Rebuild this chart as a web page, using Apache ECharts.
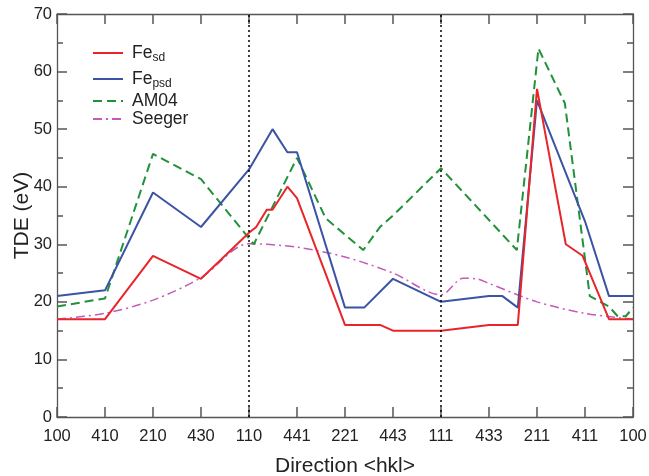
<!DOCTYPE html>
<html>
<head>
<meta charset="utf-8">
<script src="https://cdn.jsdelivr.net/npm/echarts@6/dist/echarts.min.js"></script>
<style>
  html, body { margin: 0; padding: 0; background: #fff; }
  #chart { width: 649px; height: 476px; }
</style>
</head>
<body>
<div id="chart"></div>
<script>
// 方向标签 (x轴刻度)
const dirLabels = ['100', '410', '210', '430', '110', '441', '221', '443', '111', '433', '211', '411', '100'];

// Fe_sd
const sdX = [0, 1, 2, 3, 4, 4.15, 4.37, 4.49, 4.8, 5, 6, 6.73, 7, 8, 9, 9.6, 10, 10.6, 10.95, 11.5, 12];
const sdY = [17, 17, 28, 24, 32, 33, 36, 36, 40, 38, 16, 16, 15, 15, 16, 16, 57, 30, 28, 17, 17];
// Fe_psd
const psdX = [0, 1, 2, 3, 4, 4.49, 4.8, 5, 6, 6.4, 7, 8, 9, 9.28, 9.6, 10, 11, 11.5, 12];
const psdY = [21, 22, 39, 33, 43, 50, 46, 46, 19, 19, 24, 20, 21, 21, 19, 55, 34, 21, 21];
// AM04
const amX = [0, 1, 2, 3, 4.1, 5, 5.6, 6.38, 6.73, 7, 8, 9.58, 10.03, 10.58, 11.1, 11.5, 11.68, 11.85, 12];
const amY = [19.2, 20.6, 45.7, 41.3, 30, 45, 34.5, 29, 33, 35, 43.2, 29, 64, 54.5, 21, 19.2, 17.5, 17.5, 19];
// Seeger
const seX = [0, 1, 2, 3, 4, 5, 6, 7, 8, 8.46, 8.74, 9, 10, 11, 12];
const seY = [17, 18, 20.3, 24.2, 30.1, 29.5, 27.8, 25, 21.2, 24.1, 24, 23.2, 20, 18, 17];

const zip = (xs, ys) => xs.map((x, i) => [x, ys[i]]);

let myChart = echarts.init(document.getElementById('chart'), null, {renderer: 'canvas'});

const FONT = 'Liberation Sans, Arial, sans-serif';
const AXIS_COLOR = '#555';
const TEXT_COLOR = '#222';

// 图例的下标
const legendRich = {
  n: { fontSize: 17.5, fontFamily: FONT, color: TEXT_COLOR, padding: [0, 0, 0, 4] },
  s: { fontSize: 12, fontFamily: FONT, color: TEXT_COLOR, padding: [10, 0, 0, 0] }
};
function legendFmt(name) {
  if (name === 'Fe_sd') return '{n|Fe}{s|sd}';
  if (name === 'Fe_psd') return '{n|Fe}{s|psd}';
  return '{n|' + name + '}';
}
function oneLegend(name, top) {
  return {
    data: [name],
    left: 87,
    top: top,
    itemWidth: 30,
    itemHeight: 12,
    itemGap: 0,
    selectedMode: false,
    formatter: legendFmt,
    itemStyle: { color: 'rgba(0,0,0,0)', borderWidth: 0, opacity: 0 },
    textStyle: { rich: legendRich }
  };
}

// 坐标轴公共设置 (刻度朝内)
function tickStyle() {
  return { show: true, inside: true, length: 10, lineStyle: { color: AXIS_COLOR, width: 1.5 } };
}
function lineStyle() {
  return { show: true, onZero: false, lineStyle: { color: AXIS_COLOR, width: 1.3 } };
}
function minorStyle() {
  return { show: true, splitNumber: 2, length: 6, lineStyle: { color: AXIS_COLOR, width: 1.5 } };
}

let option = {
  animation: false,
  backgroundColor: '#fff',
  color: ['#e8252a', '#3b53a4', '#21913a', '#c45ab9'],
  legend: [
    oneLegend('Fe_sd', 39),
    oneLegend('Fe_psd', 65),
    oneLegend('AM04', 87),
    oneLegend('Seeger', 105)
  ],
  grid: { left: 57, right: 16, top: 14, bottom: 59, containLabel: false, outerBoundsMode: 'none' },
  xAxis: [
    {
      type: 'value', min: 0, max: 12, interval: 1,
      name: 'Direction <hkl>', nameLocation: 'middle', nameGap: 39, nameMoveOverlap: false,
      nameTextStyle: { fontSize: 21, fontFamily: FONT, color: TEXT_COLOR },
      axisLine: lineStyle(),
      axisTick: tickStyle(),
      axisLabel: {
        fontSize: 16.5, fontFamily: FONT, color: TEXT_COLOR, margin: 11,
        formatter: v => dirLabels[Math.round(v)]
      },
      splitLine: { show: false }
    },
    {
      type: 'value', min: 0, max: 12, interval: 1, position: 'top',
      axisLine: lineStyle(),
      axisTick: tickStyle(),
      axisLabel: { show: false },
      splitLine: { show: false }
    }
  ],
  yAxis: [
    {
      type: 'value', min: 0, max: 70, interval: 10,
      name: 'TDE (eV)', nameLocation: 'middle', nameGap: 24, nameRotate: 90, nameMoveOverlap: false,
      nameTextStyle: { fontSize: 21, fontFamily: FONT, color: TEXT_COLOR },
      axisLine: lineStyle(),
      axisTick: tickStyle(),
      minorTick: minorStyle(),
      axisLabel: { fontSize: 16.5, fontFamily: FONT, color: TEXT_COLOR, margin: 5 },
      splitLine: { show: false }
    },
    {
      type: 'value', min: 0, max: 70, interval: 10, position: 'right',
      axisLine: lineStyle(),
      axisTick: tickStyle(),
      minorTick: minorStyle(),
      axisLabel: { show: false },
      splitLine: { show: false }
    }
  ],
  series: [
    {
      name: 'Fe_sd', type: 'line', symbol: 'none', z: 4,
      data: zip(sdX, sdY),
      lineStyle: { width: 2 },
      markLine: {
        silent: true, symbol: 'none', label: { show: false },
        lineStyle: { color: '#000', type: [2, 3], width: 1.5 },
        data: [{ xAxis: 4 }, { xAxis: 8 }]
      }
    },
    {
      name: 'Fe_psd', type: 'line', symbol: 'none', z: 3,
      data: zip(psdX, psdY),
      lineStyle: { width: 2 }
    },
    {
      name: 'AM04', type: 'line', symbol: 'none', z: 2,
      data: zip(amX, amY),
      lineStyle: { width: 2, type: [9, 5] }
    },
    {
      // 绑定到上/右坐标轴, 让边框刻度显示出来
      name: 'Seeger', type: 'line', symbol: 'none', z: 1, smooth: 0.3,
      xAxisIndex: 1, yAxisIndex: 1,
      data: zip(seX, seY),
      lineStyle: { width: 1.5, type: [9, 4, 2, 4] }
    }
  ]
};

myChart.setOption(option);
</script>
</body>
</html>
